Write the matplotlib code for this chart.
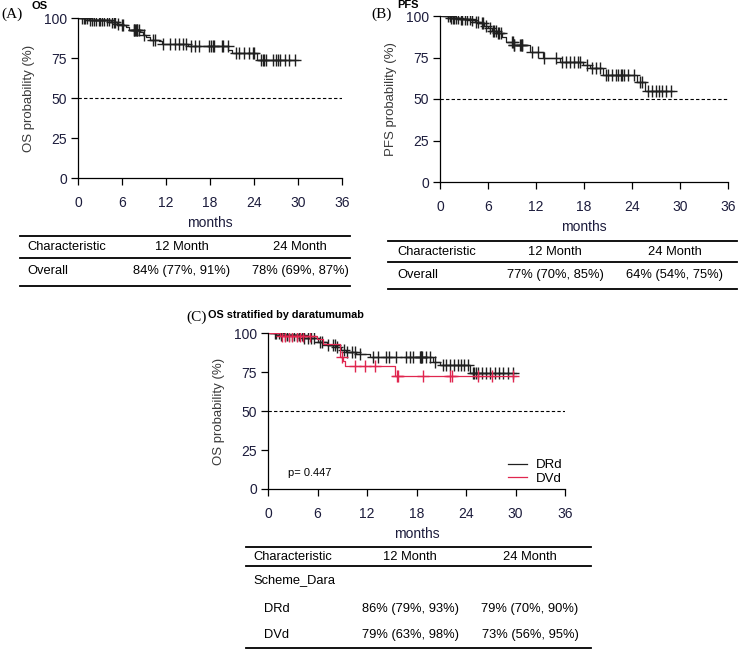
import numpy as np
import matplotlib
matplotlib.use("Agg")
import matplotlib.pyplot as plt
from matplotlib.lines import Line2D

plt.rcParams['font.family'] = ['Liberation Sans', 'DejaVu Sans']

W, H = 738, 650

# ---- data ----
# (A) overall survival
os_t = [0, 1.5, 4.5, 5.3, 5.8, 6.5, 6.9, 8.4, 8.8, 9.3, 9.8, 11.0, 11.4, 15.0, 20.5, 21.0, 24.4]
os_s = [100, 98.7, 97.5, 96.5, 95.5, 94.5, 92.5, 91, 89.5, 88, 86.5, 85.5, 84, 82.5, 80, 78.3, 73.8]
os_end = 30.0
os_cens = [0.5, 0.8, 1.0, 1.2, 1.7, 1.9, 2.2, 2.5, 2.8, 3.0, 3.3, 3.6, 3.9, 4.2, 4.7, 4.9, 5.1,
           5.5, 6.0, 6.2, 7.6, 7.7, 7.8, 7.9, 8.0, 8.1, 8.3, 9.0, 10.2, 10.5, 11.6, 12.5, 13.2,
           13.8, 14.3, 14.7, 15.4, 16.0, 16.5, 17.8, 18.2, 18.4, 18.6, 19.6, 19.8, 20.4, 21.5,
           22.0, 22.6, 23.3, 23.8, 24.0, 25.0, 25.2, 25.4, 25.6, 26.6, 27.0, 27.3, 27.6, 28.2,
           28.8, 29.6]

# (B) progression-free survival
pfs_t = [0, 1.3, 2.5, 3.8, 4.4, 5.0, 5.5, 6.0, 6.5, 7.1, 7.7, 8.3, 9.2, 11.3, 12.9, 15.0,
         17.9, 18.8, 20.4, 24.6, 25.6]
pfs_s = [100, 99, 98.3, 97.5, 96.5, 95.5, 94, 92.5, 91, 89.5, 87.5, 84.5, 82.5, 78.5, 75,
         72.5, 70.5, 68.5, 64.5, 60.4, 55]
pfs_end = 29.2
pfs_cens = [1.0, 1.2, 1.4, 1.6, 1.8, 2.0, 2.3, 2.6, 2.8, 3.1, 3.4, 3.7, 4.0, 4.5, 4.7, 5.2,
            5.4, 5.8, 6.2, 6.6, 6.8, 7.0, 7.2, 7.4, 7.6, 9.0, 9.1, 9.2, 9.3, 10.0, 10.1, 10.2,
            10.3, 11.5, 12.2, 13.0, 14.5, 15.2, 15.7, 16.3, 16.8, 17.2, 17.5, 18.4, 19.0, 19.5,
            20.0, 20.8, 21.0, 21.5, 22.0, 22.3, 22.6, 22.8, 23.0, 23.5, 24.2, 25.0, 25.3, 26.0,
            26.5, 27.0, 27.4, 27.8, 28.2, 28.9]

# (C) OS by daratumumab scheme
drd_t = [0, 1.5, 4.3, 6.1, 7.1, 8.3, 8.9, 9.5, 10.7, 12.4, 20.0, 20.8, 24.5]
drd_s = [100, 98.8, 96.5, 94.4, 92.3, 91.2, 89.2, 87.7, 86.6, 84.3, 81.7, 79.6, 74.3]
drd_end = 30.1
drd_cens = [0.8, 1.0, 1.3, 1.6, 2.0, 2.3, 2.6, 2.9, 3.2, 3.5, 3.8, 4.1, 4.4, 4.8, 5.2, 5.6,
            6.3, 6.6, 7.3, 7.9, 8.1, 8.4, 9.2, 9.6, 10.2, 10.5, 11.1, 12.7, 13.3, 14.3, 14.7,
            15.5, 16.7, 17.2, 17.6, 18.4, 18.5, 18.6, 18.7, 19.2, 19.6, 20.3, 21.2, 21.6, 22.0,
            22.5, 23.0, 23.4, 23.8, 24.2, 24.8, 25.0, 25.2, 25.4, 25.9, 26.4, 26.9, 27.5, 28.0,
            28.5, 29.1, 29.7]
dvd_t = [0, 1.45, 5.9, 6.7, 8.7, 9.1, 9.3, 15.4]
dvd_s = [100, 98, 96, 92.7, 84.8, 82, 78.8, 72.4]
dvd_end = 30.1
dvd_cens = [1.7, 2.1, 2.5, 2.9, 3.5, 3.9, 4.3, 5.1, 9.0, 10.5, 11.8, 13.0, 15.6, 15.8, 18.8,
            22.1, 22.3, 25.5, 27.2, 29.7]

xticks = [0, 6, 12, 18, 24, 30, 36]
yticks = [0, 25, 50, 75, 100]

tabA = [["Characteristic", "12 Month", "24 Month"],
        ["Overall", "84% (77%, 91%)", "78% (69%, 87%)"]]
tabB = [["Characteristic", "12 Month", "24 Month"],
        ["Overall", "77% (70%, 85%)", "64% (54%, 75%)"]]
tabC = [["Characteristic", "12 Month", "24 Month"],
        ["Scheme_Dara", "", ""],
        ["DRd", "86% (79%, 93%)", "79% (70%, 90%)"],
        ["DVd", "79% (63%, 98%)", "73% (56%, 95%)"]]

tick_col = '#1c1c3c'
lab_col = '#3a3a3a'


def box(x0, y0, x1, y1):
    return [x0 / W, 1 - y1 / H, (x1 - x0) / W, (y1 - y0) / H]


def ftext(x, y, s, **kw):
    fig.text(x / W, 1 - y / H, s, va='center', **kw)


def hline(x0, x1, y, lw=1.3):
    fig.add_artist(Line2D([x0 / W, x1 / W], [1 - y / H, 1 - y / H],
                          transform=fig.transFigure, color='black', lw=lw))


def km(ax, t, s, end, cens, col, lab=None):
    tt = list(t) + [end]
    ss = list(s) + [s[-1]]
    ax.step(tt, ss, where='post', color=col, lw=0.9, label=lab)
    idx = np.searchsorted(np.array(t), np.array(cens), side='right') - 1
    cy = np.array(s)[idx]
    ax.plot(cens, cy, ls='none', marker='+', ms=8, mew=1.0, color=col)


def style(ax, ylabel):
    ax.set_xlim(0, 36)
    ax.set_ylim(0, 100)
    ax.axhline(50, color='black', ls=(0, (3, 2)), lw=0.8)
    for sp in ['top', 'right']:
        ax.spines[sp].set_visible(False)
    for sp in ['left', 'bottom']:
        ax.spines[sp].set_linewidth(0.9)
    ax.set_xticks(xticks)
    ax.set_yticks(yticks)
    ax.tick_params(length=5, width=0.9, labelsize=10, colors='black', labelcolor=tick_col)
    ax.tick_params(axis='x', pad=8)
    ax.tick_params(axis='y', pad=3)
    ax.set_xlabel('months', fontsize=10, color=tick_col, labelpad=4)
    ax.set_ylabel(ylabel, fontsize=9.5, color=lab_col, labelpad=6)


def table(rows, x0, x1, ys, lines, cx):
    for yl in lines:
        hline(x0, x1, yl)
    for i, r in enumerate(rows):
        indent = 11 if (len(rows) > 2 and i >= 2) else 0
        ftext(cx[0] + indent, ys[i], r[0], ha='left', fontsize=9.3)
        ftext(cx[1], ys[i], r[1], ha='center', fontsize=9.3)
        ftext(cx[2], ys[i], r[2], ha='center', fontsize=9.3)


fig = plt.figure(figsize=(W / 100, H / 100), dpi=100)

# panel A
axA = fig.add_axes(box(78, 18, 342, 178))
km(axA, os_t, os_s, os_end, os_cens, '#202020')
style(axA, 'OS probability (%)')
ftext(1, 14, '(A)', ha='left', fontsize=11, family='Liberation Serif')
ftext(32, 6, 'OS', ha='left', fontsize=8, fontweight='bold')
table(tabA, 20, 350, [247, 271], [236, 258, 286], [27, 182, 300])

# panel B
axB = fig.add_axes(box(440, 16, 728, 182))
km(axB, pfs_t, pfs_s, pfs_end, pfs_cens, '#202020')
style(axB, 'PFS probability (%)')
ftext(371, 14, '(B)', ha='left', fontsize=11, family='Liberation Serif')
ftext(397, 5.5, 'PFS', ha='left', fontsize=8, fontweight='bold')
table(tabB, 388, 737, [252, 275], [241, 262, 289], [397, 555, 675])

# panel C
axC = fig.add_axes(box(268, 333, 565, 489))
km(axC, drd_t, drd_s, drd_end, drd_cens, '#202020', 'DRd')
km(axC, dvd_t, dvd_s, dvd_end, dvd_cens, '#e0264f', 'DVd')
style(axC, 'OS probability (%)')
axC.text(2.4, 10.3, 'p= 0.447', fontsize=8, va='center')
axC.legend(loc='lower right', bbox_to_anchor=(1.03, -0.05), frameon=False, fontsize=9.5,
           handlelength=1.5, labelspacing=0.1, handletextpad=0.6)
ftext(186, 317, '(C)', ha='left', fontsize=11, family='Liberation Serif')
ftext(208, 315, 'OS stratified by daratumumab', ha='left', fontsize=7.8, fontweight='bold')
table(tabC, 246, 591, [557, 580, 609, 635], [547, 566, 648], [253, 410, 530])

fig.savefig('out.png', dpi=100)
